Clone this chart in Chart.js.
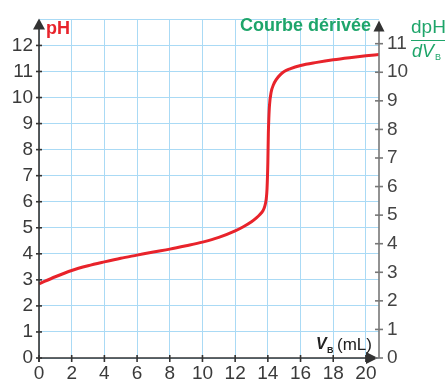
<!DOCTYPE html>
<html>
<head>
<meta charset="utf-8">
<script src="https://cdn.jsdelivr.net/npm/chart.js@4/dist/chart.umd.min.js"></script>
<style>
  html, body { margin: 0; padding: 0; background: #fff; }
  #wrap { width: 445px; height: 381px; }
</style>
</head>
<body>
<div id="wrap"><canvas id="c" width="445" height="381"></canvas></div>
<script>
// Data
const volumes = [0, 1, 2, 3, 4, 5, 6, 7, 8, 9, 10, 11, 12, 12.5, 13, 13.3, 13.5, 13.7, 13.8, 13.9, 13.95, 14, 14.03, 14.06, 14.1, 14.2, 14.35, 14.5, 14.75, 15, 15.35, 16, 17, 18, 19, 20, 20.8];
const phValues = [2.85, 3.12, 3.36, 3.54, 3.69, 3.83, 3.95, 4.07, 4.18, 4.31, 4.45, 4.63, 4.88, 5.04, 5.23, 5.38, 5.5, 5.65, 5.8, 6.1, 6.5, 7.5, 8.6, 9.2, 9.7, 10.2, 10.5, 10.68, 10.87, 11.0, 11.1, 11.23, 11.35, 11.45, 11.53, 11.6, 11.65];
const xTickLabels = [0, 2, 4, 6, 8, 10, 12, 14, 16, 18, 20];
const phTickLabels = [0, 1, 2, 3, 4, 5, 6, 7, 8, 9, 10, 11, 12];
const derivTickLabels = [0, 1, 2, 3, 4, 5, 6, 7, 8, 9, 10, 11];

const RED = '#e8232b';
const GREEN = '#1ea56a';
const GRID = '#aadaf5';
const TXT = '#3a3a3a';

const points = volumes.map((v, i) => ({ x: v, y: phValues[i] }));

const decor = {
  id: 'decor',
  afterDatasetsDraw(chart) {
    const ctx = chart.ctx;
    const xs = chart.scales.x, ys = chart.scales.y, y2 = chart.scales.y2;
    const ca = chart.chartArea;
    const L = xs.getPixelForValue(0);
    const B = ys.getPixelForValue(0);
    const R = ca.right;
    ctx.save();
    // left axis
    ctx.strokeStyle = '#333'; ctx.fillStyle = '#333'; ctx.lineWidth = 1.6;
    ctx.beginPath(); ctx.moveTo(L, B + 4); ctx.lineTo(L, ca.top + 8); ctx.stroke();
    ctx.beginPath(); ctx.moveTo(L, ca.top - 1); ctx.lineTo(L - 6, ca.top + 10); ctx.lineTo(L + 6, ca.top + 10); ctx.closePath(); ctx.fill();
    phTickLabels.forEach(v => { const y = ys.getPixelForValue(v); ctx.beginPath(); ctx.moveTo(L - 3, y); ctx.lineTo(L + 3, y); ctx.stroke(); });
    // x axis
    ctx.beginPath(); ctx.moveTo(L, B); ctx.lineTo(R - 8, B); ctx.stroke();
    ctx.beginPath(); ctx.moveTo(R - 1, B); ctx.lineTo(R - 13, B - 6); ctx.lineTo(R - 13, B + 6); ctx.closePath(); ctx.fill();
    xTickLabels.forEach(v => { const x = xs.getPixelForValue(v); ctx.beginPath(); ctx.moveTo(x, B - 3); ctx.lineTo(x, B + 4); ctx.stroke(); });
    // right axis
    ctx.strokeStyle = '#777'; ctx.fillStyle = '#333'; ctx.lineWidth = 1.6;
    ctx.beginPath(); ctx.moveTo(R, B); ctx.lineTo(R, ca.top + 8); ctx.stroke();
    ctx.beginPath(); ctx.moveTo(R, ca.top + 1); ctx.lineTo(R - 5.5, ca.top + 12); ctx.lineTo(R + 5.5, ca.top + 12); ctx.closePath(); ctx.fill();
    derivTickLabels.forEach(v => { const y = y2.getPixelForValue(v); ctx.beginPath(); ctx.moveTo(R - 4, y); ctx.lineTo(R + 4, y); ctx.stroke(); });

    // texts
    ctx.textBaseline = 'alphabetic';
    ctx.fillStyle = RED; ctx.textAlign = 'left';
    ctx.font = 'bold 18px "Liberation Sans", Arial, sans-serif';
    ctx.fillText('pH', 46, 34);

    ctx.fillStyle = GREEN; ctx.textAlign = 'right';
    ctx.font = 'bold 18px "Liberation Sans", Arial, sans-serif';
    ctx.fillText('Courbe dérivée', 371, 31);

    ctx.textAlign = 'left';
    ctx.font = '19px "Liberation Sans", Arial, sans-serif';
    ctx.fillText('dpH', 411, 33);
    ctx.strokeStyle = GREEN; ctx.lineWidth = 1.2;
    ctx.beginPath(); ctx.moveTo(411, 40.5); ctx.lineTo(445, 40.5); ctx.stroke();
    ctx.font = 'italic 18px "Liberation Sans", Arial, sans-serif';
    ctx.fillText('dV', 412, 57);
    ctx.font = '9px "Liberation Sans", Arial, sans-serif';
    ctx.fillText('B', 435, 60);

    ctx.fillStyle = '#222';
    ctx.font = 'bold italic 16px "Liberation Sans", Arial, sans-serif';
    ctx.fillText('V', 316, 349);
    ctx.font = 'bold 9px "Liberation Sans", Arial, sans-serif';
    ctx.fillText('B', 327, 353);
    ctx.font = '17px "Liberation Sans", Arial, sans-serif';
    ctx.fillText('(mL)', 337, 350);
    ctx.restore();
  }
};

new Chart(document.getElementById('c'), {
  type: 'line',
  data: {
    datasets: [{
      data: points,
      borderColor: RED,
      borderWidth: 3,
      pointRadius: 0,
      fill: false,
      cubicInterpolationMode: 'monotone',
      yAxisID: 'y'
    }]
  },
  options: {
    responsive: false,
    devicePixelRatio: 1,
    animation: false,
    events: [],
    layout: { padding: { top: 15, left: 0, right: 0, bottom: 0 } },
    plugins: { legend: { display: false }, tooltip: { enabled: false } },
    scales: {
      x: {
        type: 'linear', min: 0, max: 20.8,
        grid: { color: GRID, lineWidth: 1, drawTicks: false },
        border: { display: false },
        ticks: { stepSize: 2, includeBounds: false, padding: 4, color: TXT,
                 font: { size: 19, family: '"Liberation Sans", Arial, sans-serif' },
                 maxRotation: 0, autoSkip: false },
        afterFit(s) { s.height = 23; }
      },
      y: {
        type: 'linear', position: 'left', min: 0, max: 13,
        grid: { color: GRID, lineWidth: 1, drawTicks: false },
        border: { display: false },
        ticks: { stepSize: 1, includeBounds: false, padding: 6, color: TXT,
                 font: { size: 19, family: '"Liberation Sans", Arial, sans-serif' },
                 callback: v => (phTickLabels.includes(v) ? String(v) : '') },
        afterFit(s) { s.width = 39; }
      },
      y2: {
        type: 'linear', position: 'right', min: 0, max: 11.85,
        grid: { display: false, drawTicks: false },
        border: { display: false },
        ticks: { stepSize: 1, includeBounds: false, padding: 8, color: '#444',
                 font: { size: 19, family: '"Liberation Sans", Arial, sans-serif' },
                 callback: v => (derivTickLabels.includes(v) ? String(v) : '') },
        afterFit(s) { s.width = 66; }
      }
    }
  },
  plugins: [decor]
});
</script>
</body>
</html>
